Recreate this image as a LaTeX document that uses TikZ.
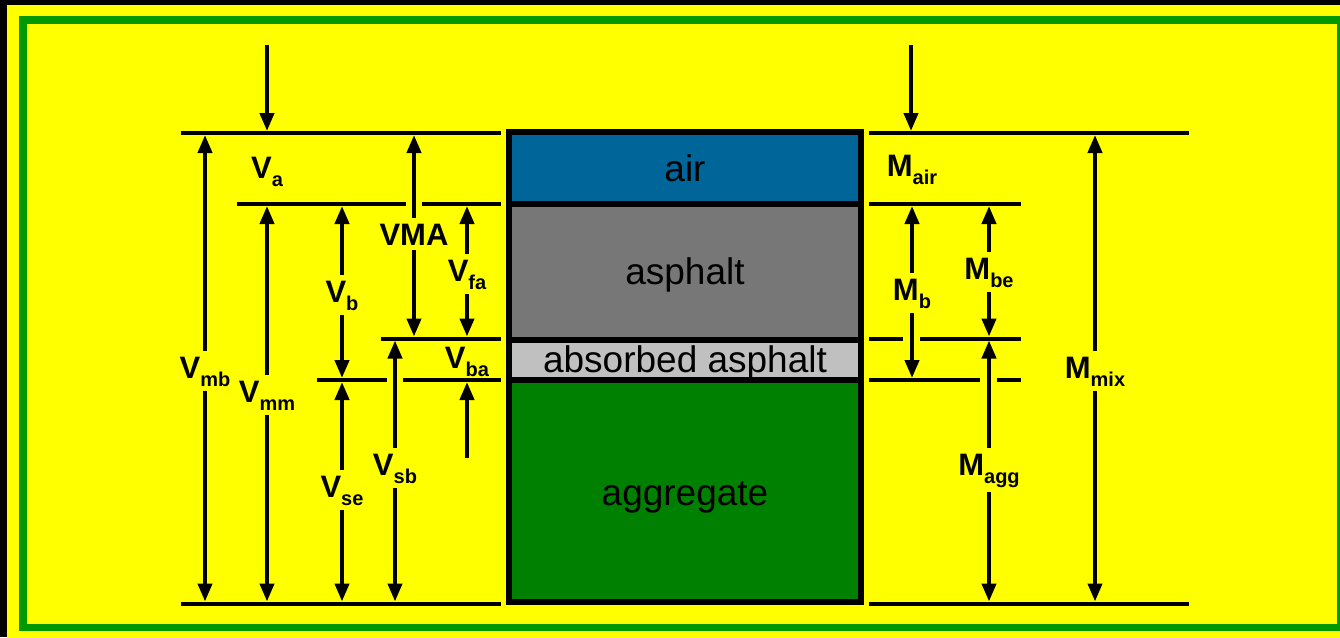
\documentclass[tikz,border=0pt]{standalone}
\usepackage{fontspec}
\setmainfont{Liberation Sans}
\usetikzlibrary{arrows.meta}
\definecolor{fyellow}{HTML}{FFFF00}
\definecolor{fgreen}{HTML}{009900}
\definecolor{airblue}{HTML}{006699}
\definecolor{asphgray}{HTML}{777777}
\definecolor{absgray}{HTML}{C0C0C0}
\definecolor{agggreen}{HTML}{008000}
\newcommand\dimlab[2]{{\fontsize{31}{31}\selectfont\bfseries #1}\raisebox{-8pt}{\fontsize{20}{20}\selectfont\bfseries #2}}
\tikzset{
  hline/.style={line width=4pt},
  dimarrow/.style={line width=4pt,-{Triangle[length=18pt,width=14pt]},shorten >=2pt},
  dimlabel/.style={anchor=base, inner xsep=0pt, inner ysep=5pt},
  bandbox/.style={draw=black, line width=6pt, minimum width=352pt, inner sep=0pt},
  bandtext/.style={anchor=base, font=\fontsize{37}{37}\selectfont, inner sep=0pt},
}
\begin{document}
\begin{tikzpicture}[x=1pt,y=-1pt]
\useasboundingbox (0,0) rectangle (1340,637);
\clip (0,0) rectangle (1340,637);
% frame
\fill[black] (0,0) rectangle (1340,637);
\fill[fyellow] (7,5) rectangle (1350,645);
\fill[fgreen] (19,16) rectangle (1350,631);
\fill[fyellow] (27,24) rectangle (1337,624);
% line levels
\coordinate (yT) at (0,133);
\coordinate (y1) at (0,204);
\coordinate (y2) at (0,338.5);
\coordinate (y3) at (0,380);
\coordinate (yB) at (0,603.5);
% central column
\node[bandbox, fill=airblue, minimum height=72pt] (air) at (685,168) {};
\node[bandbox, fill=asphgray, minimum height=135.5pt] (asph) at (685,271.75) {};
\node[bandbox, fill=absgray, minimum height=40.5pt] (abs) at (685,359.75) {};
\node[bandbox, fill=agggreen, minimum height=222pt] (agg) at (685,491) {};
\node[bandtext] (tair) at (685,181) {air};
\node[bandtext] (tasph) at (685,284) {asphalt};
\node[bandtext] (tabs) at (685,372) {absorbed asphalt};
\node[bandtext] (tagg) at (685,505) {aggregate};
% horizontal lines left
\draw[hline] (181,133) -- (501,133);
\draw[hline] (237,204) -- (406,204) (422,204) -- (501,204);
\draw[hline] (381,338.5) -- (501,338.5);
\draw[hline] (317,380) -- (387,380) (403,380) -- (501,380);
\draw[hline] (181,603.5) -- (501,603.5);
% horizontal lines right
\draw[hline] (869,133) -- (1189,133);
\draw[hline] (869,204) -- (1021,204);
\draw[hline] (869,338.5) -- (903,338.5) (920,338.5) -- (1021,338.5);
\draw[hline] (869,380) -- (980,380) (997,380) -- (1021,380);
\draw[hline] (869,603.5) -- (1189,603.5);
% left labels
\node[dimlabel] (va) at (267,178) {\dimlab{V}{a}};
\coordinate (vtop) at (267,45);
\draw[dimarrow] (vtop) -- (vtop |- yT);
\node[dimlabel] (vmb) at (205,378) {\dimlab{V}{mb}};
\draw[dimarrow] (vmb.north) -- (vmb.north |- yT);
\draw[dimarrow] (vmb.south) -- (vmb.south |- yB);
\node[dimlabel] (vmm) at (267,402) {\dimlab{V}{mm}};
\draw[dimarrow] (vmm.north) -- (vmm.north |- y1);
\draw[dimarrow] (vmm.south) -- (vmm.south |- yB);
\node[dimlabel] (vb) at (342,302) {\dimlab{V}{b}};
\draw[dimarrow] (vb.north) -- (vb.north |- y1);
\draw[dimarrow] (vb.south) -- (vb.south |- y3);
\node[dimlabel] (vse) at (342,497) {\dimlab{V}{se}};
\draw[dimarrow] (vse.north) -- (vse.north |- y3);
\draw[dimarrow] (vse.south) -- (vse.south |- yB);
\node[dimlabel, font=\fontsize{31}{31}\selectfont\bfseries] (vma) at (414,245) {VMA};
\draw[dimarrow] (vma.north) -- (vma.north |- yT);
\draw[dimarrow] (vma.south) -- (vma.south |- y2);
\node[dimlabel] (vfa) at (467,281) {\dimlab{V}{fa}};
\draw[dimarrow] (vfa.north) -- (vfa.north |- y1);
\draw[dimarrow] (vfa.south) -- (vfa.south |- y2);
\node[dimlabel] (vsb) at (395,475) {\dimlab{V}{sb}};
\draw[dimarrow] (vsb.north) -- (vsb.north |- y2);
\draw[dimarrow] (vsb.south) -- (vsb.south |- yB);
\node[dimlabel] (vba) at (467,368) {\dimlab{V}{ba}};
\coordinate (vbafoot) at (467,458);
\draw[dimarrow] (vbafoot) -- (vbafoot |- y3);
% right labels
\node[dimlabel] (mair) at (912,176) {\dimlab{M}{air}};
\coordinate (mtop) at (911,45);
\draw[dimarrow] (mtop) -- (mtop |- yT);
\node[dimlabel] (mb) at (912,300) {\dimlab{M}{b}};
\draw[dimarrow] (mb.north) -- (mb.north |- y1);
\draw[dimarrow] (mb.south) -- (mb.south |- y3);
\node[dimlabel] (mbe) at (989,279) {\dimlab{M}{be}};
\draw[dimarrow] (mbe.north) -- (mbe.north |- y1);
\draw[dimarrow] (mbe.south) -- (mbe.south |- y2);
\node[dimlabel] (magg) at (989,475) {\dimlab{M}{agg}};
\draw[dimarrow] (magg.north) -- (magg.north |- y2);
\draw[dimarrow] (magg.south) -- (magg.south |- yB);
\node[dimlabel] (mmix) at (1095,378) {\dimlab{M}{mix}};
\draw[dimarrow] (mmix.north) -- (mmix.north |- yT);
\draw[dimarrow] (mmix.south) -- (mmix.south |- yB);
\end{tikzpicture}
\end{document}
